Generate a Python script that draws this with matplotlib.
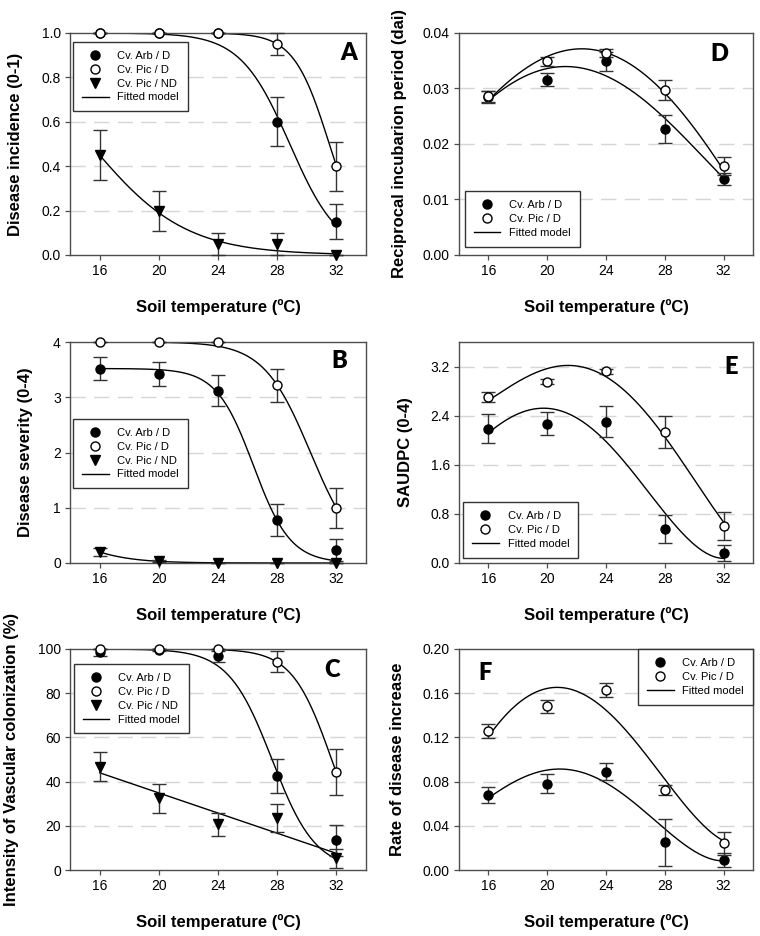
import matplotlib
matplotlib.use("Agg")
import matplotlib.pyplot as plt
from matplotlib.lines import Line2D
import numpy as np

plt.rcParams['font.family'] = ['Liberation Sans', 'DejaVu Sans']

temps = [16, 20, 24, 28, 32]

# A - disease incidence (0-1): means and standard errors
inc_arb = [1.0, 1.0, 1.0, 0.60, 0.15]
inc_arb_se = [0, 0, 0, 0.11, 0.08]
inc_pic = [1.0, 1.0, 1.0, 0.95, 0.40]
inc_pic_se = [0, 0, 0, 0.05, 0.11]
inc_pnd = [0.45, 0.20, 0.05, 0.05, 0.0]
inc_pnd_se = [0.113, 0.09, 0.05, 0.05, 0]

# B - disease severity (0-4)
sev_arb = [3.52, 3.42, 3.12, 0.77, 0.23]
sev_arb_se = [0.20, 0.21, 0.28, 0.29, 0.20]
sev_pic = [4.0, 4.0, 4.0, 3.22, 1.0]
sev_pic_se = [0, 0, 0, 0.30, 0.36]
sev_pnd = [0.20, 0.03, 0.0, 0.0, 0.0]
sev_pnd_se = [0.07, 0.02, 0, 0, 0]

# C - intensity of vascular colonization (%)
col_arb = [98.5, 99.5, 96.7, 42.5, 13.5]
col_arb_se = [1.5, 0.5, 2.5, 7.8, 7.0]
col_pic = [100, 100, 100, 94.3, 44.3]
col_pic_se = [0, 0, 0, 4.9, 10.4]
col_pnd = [46.8, 32.4, 20.6, 23.5, 5.3]
col_pnd_se = [6.7, 6.5, 5.4, 6.4, 4.2]

# D - reciprocal incubation period
rip_arb = [0.0285, 0.0316, 0.0349, 0.0227, 0.0137]
rip_arb_se = [0.0011, 0.0012, 0.0017, 0.0025, 0.0011]
rip_pic = [0.0286, 0.0349, 0.0364, 0.0298, 0.0161]
rip_pic_se = [0.0010, 0.0008, 0.0008, 0.0018, 0.0016]

# E - SAUDPC (0-4)
aud_arb = [2.19, 2.27, 2.30, 0.56, 0.16]
aud_arb_se = [0.23, 0.19, 0.25, 0.23, 0.13]
aud_pic = [2.71, 2.95, 3.12, 2.13, 0.60]
aud_pic_se = [0.08, 0.04, 0.04, 0.26, 0.23]

# F - rate of disease increase
rate_arb = [0.068, 0.078, 0.089, 0.025, 0.009]
rate_arb_se = [0.0075, 0.0085, 0.008, 0.0215, 0.006]
rate_pic = [0.126, 0.148, 0.163, 0.072, 0.024]
rate_pic_se = [0.0065, 0.0055, 0.006, 0.0045, 0.010]

# fitted models: logistic (K, b, x0) for A-C, linear for C non-defoliating
fit_inc = {'arb': (1.0, 0.6, 28.85), 'pic': (1.0, 0.837, 31.52), 'pnd': (1.0, 0.3125, 15.36)}
fit_sev = {'arb': (3.52, 0.8, 26.4), 'pic': (4.0, 0.63, 30.25), 'pnd': (1.0, 0.52, 13.33)}
fit_col = {'arb': (100, 0.68, 27.65), 'pic': (100, 0.748, 31.68)}
fit_col_pnd = (44.0, -2.28)  # value at 16 ºC, slope

# fitted curves of D-F, read every 2 ºC (smoothed with a polynomial)
fit_t = [16, 18, 20, 22, 24, 26, 28, 30, 32]
fit_rip_arb = [0.0278, 0.0316, 0.0336, 0.0337, 0.0324, 0.0292, 0.0244, 0.0195, 0.0138]
fit_rip_pic = [0.0278, 0.0328, 0.0357, 0.0369, 0.0366, 0.0339, 0.0291, 0.0228, 0.0153]
fit_aud_arb = [2.12, 2.42, 2.53, 2.35, 2.00, 1.42, 0.80, 0.32, 0.07]
fit_aud_pic = [2.64, 2.98, 3.15, 3.19, 3.05, 2.65, 2.05, 1.35, 0.67]
fit_rate_arb = [0.065, 0.082, 0.090, 0.089, 0.080, 0.060, 0.036, 0.018, 0.008]
fit_rate_pic = [0.121, 0.150, 0.164, 0.163, 0.145, 0.115, 0.082, 0.050, 0.026]

xs = np.linspace(16, 32, 200)


def logistic(p):
    K, b, x0 = p
    return K / (1 + np.exp(b * (xs - x0)))


def poly(vals):
    return np.polyval(np.polyfit(fit_t, vals, 4), xs)


SPINE = '#4d4d4d'


def add_ax(l, r, t, b):
    ax = fig.add_axes([l / 760, 1 - b / 936, (r - l) / 760, (b - t) / 936])
    for s in ax.spines.values():
        s.set_color(SPINE)
        s.set_linewidth(1.0)
    ax.tick_params(direction='out', length=3.6, width=0.9, color=SPINE,
                   labelsize=10, pad=3)
    ax.set_xlim(14, 34)
    ax.set_xticks(temps)
    ax.set_xlabel('Soil temperature (ºC)', fontsize=12, fontweight='bold')
    ax.xaxis.set_label_coords(0.5, -0.2)
    return ax


def grid(ax, levels):
    for g in levels:
        ax.axhline(g, color='#d6d6d6', lw=1.0, dashes=(11, 6), zorder=0)


def series(ax, y, se, marker, face, z):
    ax.errorbar(temps, y, yerr=se, fmt='none', ecolor='#333333', elinewidth=1,
                capsize=5, capthick=1, zorder=z, clip_on=False)
    ax.plot(temps, y, linestyle='none', marker=marker, markersize=6.5,
            markerfacecolor=face, markeredgecolor='black', markeredgewidth=1,
            zorder=z + 0.5, clip_on=False)


def legend(ax, three, **kw):
    h = [Line2D([], [], ls='none', marker='o', ms=6.5, mfc='black', mec='black'),
         Line2D([], [], ls='none', marker='o', ms=6.5, mfc='white', mec='black')]
    lab = ['Cv. Arb / D', 'Cv. Pic / D']
    if three:
        h.append(Line2D([], [], ls='none', marker='v', ms=6.5, mfc='black', mec='black'))
        lab.append('Cv. Pic / ND')
    h.append(Line2D([], [], color='black', lw=1))
    lab.append('Fitted model')
    leg = ax.legend(h, lab, fontsize=8, fancybox=False, framealpha=1,
                    edgecolor='#333333', borderaxespad=0, borderpad=0.8,
                    labelspacing=0.35, handlelength=2.4, handletextpad=0.8,
                    numpoints=1, **kw)
    leg.get_frame().set_linewidth(1.0)
    leg.set_zorder(20)


def letter(ax, s, x, y, ha='right'):
    ax.text(x, y, s, transform=ax.transAxes, ha=ha, va='center',
            fontsize=17, fontweight='heavy', family='Lato', zorder=25)


fig = plt.figure(figsize=(7.6, 9.36), dpi=100)

# ---- A
ax = add_ax(70, 366, 33, 255)
ax.set_ylim(0, 1.0)
ax.set_yticks(np.arange(0, 1.01, 0.2))
ax.yaxis.set_major_formatter(matplotlib.ticker.FormatStrFormatter('%.1f'))
grid(ax, [0.2, 0.4, 0.6, 0.8])
for k in ['arb', 'pic', 'pnd']:
    ax.plot(xs, logistic(fit_inc[k]), color='black', lw=1, zorder=2)
series(ax, inc_arb, inc_arb_se, 'o', 'black', 3)
series(ax, inc_pic, inc_pic_se, 'o', 'white', 5)
series(ax, inc_pnd, inc_pnd_se, 'v', 'black', 7)
ax.set_ylabel('Disease incidence (0-1)', fontsize=12, fontweight='bold')
ax.yaxis.set_label_coords(-0.16, 0.5)
legend(ax, True, loc='upper left', bbox_to_anchor=(0.01, 0.96))
letter(ax, 'A', 0.97, 0.91)

# ---- B
ax = add_ax(70, 366, 342, 563)
ax.set_ylim(0, 4)
ax.set_yticks([0, 1, 2, 3, 4])
grid(ax, [1, 2, 3])
for k in ['arb', 'pic', 'pnd']:
    ax.plot(xs, logistic(fit_sev[k]), color='black', lw=1, zorder=2)
series(ax, sev_arb, sev_arb_se, 'o', 'black', 3)
series(ax, sev_pic, sev_pic_se, 'o', 'white', 5)
series(ax, sev_pnd, sev_pnd_se, 'v', 'black', 7)
ax.set_ylabel('Disease severity (0-4)', fontsize=12, fontweight='bold')
ax.yaxis.set_label_coords(-0.125, 0.5)
legend(ax, True, loc='upper left', bbox_to_anchor=(0.01, 0.652))
letter(ax, 'B', 0.936, 0.914)

# ---- C
ax = add_ax(70, 366, 649, 870)
ax.set_ylim(0, 100)
ax.set_yticks(range(0, 101, 20))
grid(ax, [20, 40, 60, 80])
for k in ['arb', 'pic']:
    ax.plot(xs, logistic(fit_col[k]), color='black', lw=1, zorder=2)
ax.plot(xs, fit_col_pnd[0] + fit_col_pnd[1] * (xs - 16), color='black', lw=1, zorder=2)
series(ax, col_arb, col_arb_se, 'o', 'black', 3)
series(ax, col_pic, col_pic_se, 'o', 'white', 5)
series(ax, col_pnd, col_pnd_se, 'v', 'black', 7)
ax.set_ylabel('Intensity of Vascular colonization (%)', fontsize=12, fontweight='bold')
ax.yaxis.set_label_coords(-0.172, 0.5)
legend(ax, True, loc='upper left', bbox_to_anchor=(0.013, 0.932))
letter(ax, 'C', 0.912, 0.905)

# ---- D
ax = add_ax(459, 753, 33, 255)
ax.set_ylim(0, 0.04)
ax.set_yticks(np.arange(0, 0.0401, 0.01))
ax.yaxis.set_major_formatter(matplotlib.ticker.FormatStrFormatter('%.2f'))
grid(ax, [0.01, 0.02, 0.03])
ax.plot(xs, poly(fit_rip_arb), color='black', lw=1, zorder=2)
ax.plot(xs, poly(fit_rip_pic), color='black', lw=1, zorder=2)
series(ax, rip_arb, rip_arb_se, 'o', 'black', 3)
series(ax, rip_pic, rip_pic_se, 'o', 'white', 5)
ax.set_ylabel('Reciprocal incubarion period (dai)', fontsize=12, fontweight='bold')
ax.yaxis.set_label_coords(-0.177, 0.5)
legend(ax, False, loc='lower left', bbox_to_anchor=(0.02, 0.036))
letter(ax, 'D', 0.915, 0.905)

# ---- E
ax = add_ax(459, 753, 342, 563)
ax.set_ylim(0, 3.6)
ax.set_yticks([0, 0.8, 1.6, 2.4, 3.2])
ax.yaxis.set_major_formatter(matplotlib.ticker.FormatStrFormatter('%.1f'))
grid(ax, [0.8, 1.6, 2.4, 3.2])
ax.plot(xs, poly(fit_aud_arb), color='black', lw=1, zorder=2)
ax.plot(xs, poly(fit_aud_pic), color='black', lw=1, zorder=2)
series(ax, aud_arb, aud_arb_se, 'o', 'black', 3)
series(ax, aud_pic, aud_pic_se, 'o', 'white', 5)
ax.set_ylabel('SAUDPC (0-4)', fontsize=12, fontweight='bold')
ax.yaxis.set_label_coords(-0.156, 0.5)
legend(ax, False, loc='lower left', bbox_to_anchor=(0.014, 0.023))
letter(ax, 'E', 0.949, 0.887)

# ---- F
ax = add_ax(459, 753, 649, 870)
ax.set_ylim(0, 0.20)
ax.set_yticks(np.arange(0, 0.2001, 0.04))
ax.yaxis.set_major_formatter(matplotlib.ticker.FormatStrFormatter('%.2f'))
grid(ax, [0.04, 0.08, 0.12, 0.16])
ax.plot(xs, poly(fit_rate_arb), color='black', lw=1, zorder=2)
ax.plot(xs, poly(fit_rate_pic), color='black', lw=1, zorder=2)
series(ax, rate_arb, rate_arb_se, 'o', 'black', 3)
series(ax, rate_pic, rate_pic_se, 'o', 'white', 5)
ax.set_ylabel('Rate of disease increase', fontsize=12, fontweight='bold')
ax.yaxis.set_label_coords(-0.184, 0.5)
legend(ax, False, loc='upper right', bbox_to_anchor=(1.0, 1.0))
letter(ax, 'F', 0.065, 0.89, ha='left')

fig.savefig('out.png', dpi=100)
plt.close(fig)
